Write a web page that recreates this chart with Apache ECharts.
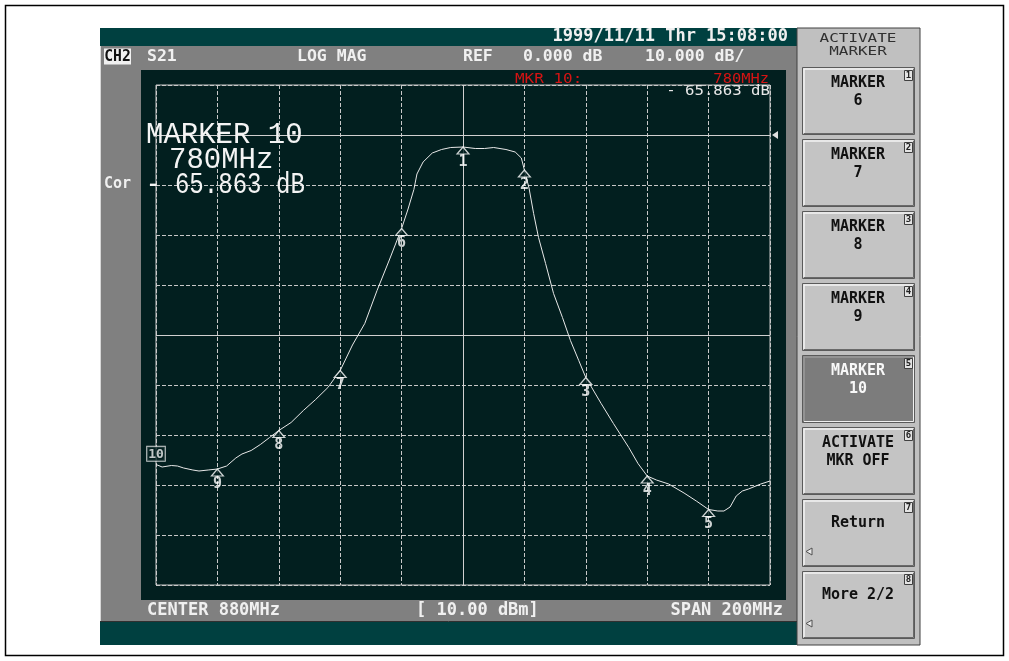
<!DOCTYPE html>
<html><head><meta charset="utf-8">
<script src="https://cdn.jsdelivr.net/npm/echarts@6/dist/echarts.min.js"></script>
<style>html,body{margin:0;padding:0;background:#fff}#c{width:1009px;height:661px}</style>
</head><body><div id="c"></div>
<script>
// ---- data (S21 LOG MAG trace, MHz / dB) ----
const freqMHz = [780,782,785,787,789,792,794,797,800,803,806,808,811,814,817,820,824,828,832,836,840,844,848,852,856,860,862,864,865,867,870,873,876,880,884,887,890,894,897,899,900,901.5,903,904.6,906.9,909.5,912.4,915,917.7,920,925,929,934,937,940,943,947,952,956,960,963,965,967,969,971,973,977,980];
const traceDb = [-65.9,-66.4,-66.1,-66.2,-66.6,-67.0,-67.2,-67.0,-66.8,-66.2,-64.6,-63.8,-63.1,-61.9,-60.5,-59.1,-57.5,-55.1,-52.9,-50.5,-47.1,-42.0,-37.7,-31.1,-25.0,-18.7,-15.0,-10.9,-7.8,-5.4,-3.6,-2.9,-2.5,-2.4,-2.7,-2.7,-2.5,-2.9,-3.4,-4.6,-7.0,-10.6,-15.7,-20.5,-25.7,-31.7,-36.5,-41.1,-45.1,-48.5,-53.7,-57.7,-62.5,-65.7,-68.2,-69.0,-69.8,-71.6,-73.2,-74.9,-75.2,-75.2,-74.4,-72.2,-71.2,-70.8,-69.8,-69.2];
const markerIds = [1,2,3,4,5,6,7,8,9];
const markerFreq = [880,900,920,940,960,860,840,820,800];
const markerDb = [-2.4,-7.0,-48.5,-68.2,-74.9,-18.7,-47.1,-59.1,-66.8];
const activeMarkerId = [10];
const activeMarkerFreq = [780];
const activeMarkerDb = [-65.863];
const xRange = [780, 980];      // CENTER 880MHz, SPAN 200MHz
const xStep = 20;
const yRange = [-90, 10];       // 10 dB/div
const yStep = 10;
const refLevel = [0];
const centerLines = {freq: 880, db: -40};
// ---- texts ----
const headerTexts = ['S21','LOG MAG','REF','0.000 dB','10.000 dB/'];
const footerTexts = ['CENTER 880MHz','[ 10.00 dBm]','SPAN 200MHz'];
const dateText = '1999/11/11 Thr 15:08:00';
const buttonLabels = [['MARKER','6'],['MARKER','7'],['MARKER','8'],['MARKER','9'],['MARKER','10'],['ACTIVATE','MKR OFF'],['Return'],['More 2/2']];

const MONO = '"DejaVu Sans Mono"';
function T(text, x, y, o) {
  o = o || {};
  return {type:'text', x:x, y:y, z:o.z||50, scaleX:o.sx||1, scaleY:o.sy||1,
    style:{text:text, fill:o.fill||'#f0f0f0',
      font:(o.w||'bold')+' '+(o.size||16)+'px '+(o.fam||MONO),
      align:o.align||'left', textAlign:o.align||'left',
      verticalAlign:o.va||'middle', textVerticalAlign:o.va||'middle'}};
}
function R(x,y,w,h,fill,stroke,z,lw){
  return {type:'rect', z:z||-10, shape:{x:x,y:y,width:w,height:h}, style:{fill:fill, stroke:stroke||null, lineWidth:lw||1}};
}
function L(pts,stroke,z,lw){
  return {type:'polyline', z:z||-5, shape:{points:pts}, style:{fill:null, stroke:stroke, lineWidth:lw||1}};
}

const els = [];
// frame
els.push(R(5.5,5.5,998,650,'#ffffff','#000',-20,1.5));
// instrument screen
els.push(R(100,28,697,18,'#004040',null,-10));
els.push(R(100,46,697,576,'#808080',null,-10));
els.push(L([[100.5,46],[100.5,622]],'#d8d8d8',-9));
els.push(R(141,70,645,530,'#021f1f',null,-9));
els.push(L([[100,621.5],[797,621.5]],'#303030',-8));
els.push(R(100,622,697,23,'#004040',null,-10));
// header
els.push(T(dateText, 788, 37, {size:17, align:'right'}));
els.push(R(104,48.5,27,16,'#f0f0f0',null,-5));
els.push(T('CH2', 117.5, 57, {size:16, align:'center', fill:'#101010', sx:0.92}));
const hx = [147,297,463,523,645];
headerTexts.forEach((t,i)=>els.push(T(t, hx[i], 57, {size:16.5})));
// footer
els.push(T(footerTexts[0], 147, 611, {size:17}));
els.push(T(footerTexts[1], 416, 611, {size:17}));
els.push(T(footerTexts[2], 783, 611, {size:17, align:'right'}));
els.push(T('Cor', 104, 184, {size:15}));
// marker readouts in plot
els.push(T('MARKER 10', 146, 135, {fam:'"Liberation Mono"', w:'normal', size:29, fill:'#f4f4f4'}));
els.push(T('780MHz', 169, 160, {fam:'"Liberation Mono"', w:'normal', size:29, fill:'#f4f4f4'}));
els.push(T('- 65.863 dB', 146, 185, {fam:'"Liberation Mono"', w:'normal', size:29, fill:'#f4f4f4', sx:0.83}));
els.push(T('MKR 10:', 515, 79, {w:'normal', size:14, fill:'#d41414', sx:1.14}));
els.push(T('780MHz', 769, 79, {w:'normal', size:14, fill:'#d41414', align:'right', sx:1.1}));
els.push(T('- 65.863 dB', 770, 91, {w:'normal', size:14, fill:'#e8e8e8', align:'right', sx:1.12}));
// softkey panel
els.push(R(797,28,123,617,'#c0c0c0','#404040',-10));
els.push(T('ACTIVATE', 858, 39, {w:'normal', size:12, fill:'#303030', align:'center', sx:1.33}));
els.push(T('MARKER', 858, 52, {w:'normal', size:12, fill:'#303030', align:'center', sx:1.33}));
const btnTop0 = 67, btnPitch = 72;
buttonLabels.forEach((lab,i)=>{
  const top = btnTop0 + i*btnPitch;
  const sel = i===4;
  els.push(R(802.5, top+0.5, 112, 67, sel?'#7c7c7c':'#c4c4c4', '#5a5a5a', -6, 1));
  els.push(L([[804,top+66],[804,top+2],[913,top+2]], sel?'#9a9a9a':'#f4f4f4', -4, 1.5));
  els.push(L([[804,top+66.5],[913.5,top+66.5],[913.5,top+2]], sel?'#f0f0f0':'#6a6a6a', -4, 1));
  const fill = sel ? '#f8f8f8' : '#111111';
  if (lab.length === 2) {
    els.push(T(lab[0], 858, top+16, {size:15, align:'center', fill:fill}));
    els.push(T(lab[1], 858, top+34, {size:15, align:'center', fill:fill}));
  } else {
    els.push(T(lab[0], 858, top+24, {size:15, align:'center', fill:fill}));
    els.push({type:'polygon', z:10, shape:{points:[[812,top+49],[806,top+52.5],[812,top+56]]}, style:{fill:'#e8e8e8', stroke:'#505050', lineWidth:1}});
  }
  els.push(R(904.5, top+3.5, 8, 10, '#e4e4e4', '#404040', 5, 1));
  els.push(T(String(i+1), 908.5, top+9, {size:9, align:'center', fill:'#202020', z:60}));
});

const chart = echarts.init(document.getElementById('c'), null, {renderer:'canvas', width:1009, height:661});
const gridLine = {show:true, lineStyle:{color:'#c8c8c8', width:1, type:[4,2]}};
chart.setOption({
  backgroundColor:'#ffffff',
  animation:false,
  graphic:{elements:els},
  grid:{left:156, top:85, width:614, height:500, show:true, borderColor:'#c8c8c8', borderWidth:1, backgroundColor:'transparent'},
  xAxis:{type:'value', min:xRange[0], max:xRange[1], interval:xStep, axisLabel:{show:false}, axisTick:{show:false}, axisLine:{show:false}, splitLine:gridLine},
  yAxis:{type:'value', min:yRange[0], max:yRange[1], interval:yStep, axisLabel:{show:false}, axisTick:{show:false}, axisLine:{show:false}, splitLine:gridLine},
  series:[
    {type:'line', data:freqMHz.map((f,i)=>[f, traceDb[i]]), showSymbol:false, silent:true, z:5,
     lineStyle:{color:'#e8e8e8', width:1},
     markLine:{silent:true, symbol:['none','none'], label:{show:false},
       lineStyle:{color:'#d0d0d0', width:1, type:'solid'},
       data:[{xAxis:centerLines.freq},{yAxis:centerLines.db},{yAxis:refLevel[0]}]},
     markPoint:{silent:true, data:[{coord:[xRange[1], refLevel[0]]}], symbol:'path://M10,0 L0,5 L10,10 Z', symbolSize:[6,8], symbolOffset:[5,0],
       itemStyle:{color:'#e0e0e0'}, label:{show:false}}
    },
    {type:'scatter', data:markerFreq.map((f,i)=>[f, markerDb[i], markerIds[i]]), silent:true, z:6,
     symbol:'triangle', symbolSize:[12,7], symbolOffset:[0,3.5],
     itemStyle:{color:'#021f1f', borderColor:'#ffffff', borderWidth:1.2},
     label:{show:true, position:'bottom', distance:0, formatter:p=>p.data[2], color:'#ffffff', fontFamily:'DejaVu Sans Mono', fontWeight:'bold', fontSize:15}
    },
    {type:'scatter', data:activeMarkerFreq.map((f,i)=>[f, activeMarkerDb[i], activeMarkerId[i]]), silent:true, z:6, clip:false,
     symbol:'rect', symbolSize:1, itemStyle:{color:'rgba(0,0,0,0)'},
     label:{show:true, position:'top', distance:3, formatter:p=>p.data[2], color:'#f2f2f2', fontFamily:'DejaVu Sans Mono', fontWeight:'bold', fontSize:13,
       borderColor:'#f2f2f2', borderWidth:1, padding:[1,1,0,1], backgroundColor:'#021f1f'}
    }
  ]
});
</script></body></html>
